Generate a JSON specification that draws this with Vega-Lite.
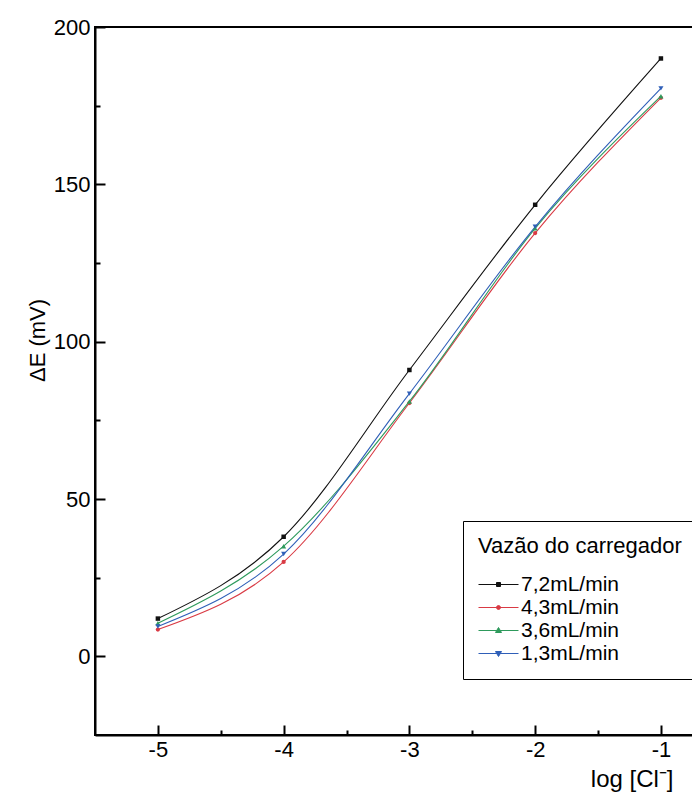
{
  "$schema": "https://vega.github.io/schema/vega-lite/v6.json",
  "width": 599,
  "height": 708,
  "autosize": {"type": "none"},
  "padding": {"left": 95, "top": 27, "right": 0, "bottom": 61},
  "background": "white",
  "config": {
    "view": {"stroke": "black", "strokeWidth": 2},
    "font": "Liberation Sans",
    "axis": {
      "grid": false,
      "domainColor": "black",
      "domainWidth": 2,
      "tickColor": "black",
      "tickWidth": 2,
      "labelFont": "Liberation Sans",
      "labelFontSize": 22,
      "labelColor": "black",
      "titleFont": "Liberation Sans",
      "titleFontWeight": "normal",
      "titleColor": "black"
    }
  },
  "data": {
    "values": [
      {"logCl": -5, "dE": 12, "vazao": "7,2mL/min"},
      {"logCl": -4, "dE": 38, "vazao": "7,2mL/min"},
      {"logCl": -3, "dE": 91, "vazao": "7,2mL/min"},
      {"logCl": -2, "dE": 143.5, "vazao": "7,2mL/min"},
      {"logCl": -1, "dE": 190, "vazao": "7,2mL/min"},
      {"logCl": -5, "dE": 8.5, "vazao": "4,3mL/min"},
      {"logCl": -4, "dE": 30, "vazao": "4,3mL/min"},
      {"logCl": -3, "dE": 80.5, "vazao": "4,3mL/min"},
      {"logCl": -2, "dE": 134.5, "vazao": "4,3mL/min"},
      {"logCl": -1, "dE": 177.5, "vazao": "4,3mL/min"},
      {"logCl": -5, "dE": 10.5, "vazao": "3,6mL/min"},
      {"logCl": -4, "dE": 35, "vazao": "3,6mL/min"},
      {"logCl": -3, "dE": 81, "vazao": "3,6mL/min"},
      {"logCl": -2, "dE": 136, "vazao": "3,6mL/min"},
      {"logCl": -1, "dE": 178, "vazao": "3,6mL/min"},
      {"logCl": -5, "dE": 9.5, "vazao": "1,3mL/min"},
      {"logCl": -4, "dE": 32.5, "vazao": "1,3mL/min"},
      {"logCl": -3, "dE": 83.5, "vazao": "1,3mL/min"},
      {"logCl": -2, "dE": 136.5, "vazao": "1,3mL/min"},
      {"logCl": -1, "dE": 180.5, "vazao": "1,3mL/min"}
    ]
  },
  "encoding": {
    "x": {
      "field": "logCl",
      "type": "quantitative",
      "scale": {"domain": [-5.5, -0.737], "nice": false, "zero": false},
      "axis": {
        "values": [-5, -4.5, -4, -3.5, -3, -2.5, -2, -1.5, -1],
        "labelExpr": "datum.value % 1 === 0 ? '' + datum.value : ''",
        "tickSize": {"condition": {"test": "datum.value % 1 === 0", "value": -10}, "value": -5},
        "labelPadding": 14,
        "title": "log [Cl⁻]",
        "titleFontSize": 24,
        "titleAlign": "right",
        "titleAnchor": "end",
        "titleBaseline": "top",
        "titleX": 578,
        "titleY": 32
      }
    },
    "y": {
      "field": "dE",
      "type": "quantitative",
      "scale": {"domain": [-25, 200], "nice": false, "zero": false},
      "axis": {
        "values": [0, 25, 50, 75, 100, 125, 150, 175, 200],
        "labelExpr": "datum.value % 50 === 0 ? '' + datum.value : ''",
        "tickSize": {"condition": {"test": "datum.value % 50 === 0", "value": -10}, "value": -5},
        "labelPadding": 15,
        "title": "ΔE (mV)",
        "titleFontSize": 22,
        "titleX": -46,
        "titleY": 313,
        "titleAlign": "center"
      }
    },
    "color": {
      "field": "vazao",
      "type": "nominal",
      "scale": {
        "domain": ["7,2mL/min", "4,3mL/min", "3,6mL/min", "1,3mL/min"],
        "range": ["#111111", "#d93a44", "#2e9a5c", "#2f5fb8"]
      },
      "legend": {
        "title": "Vazão do carregador",
        "orient": "none",
        "legendX": 368,
        "legendY": 494,
        "fillColor": "white",
        "strokeColor": "black",
        "padding": 15,
        "titleFont": "Liberation Sans",
        "titleFontSize": 22,
        "titleFontWeight": "normal",
        "titleColor": "black",
        "titleLimit": 400,
        "titlePadding": 16,
        "labelFont": "Liberation Sans",
        "labelFontSize": 21,
        "labelColor": "black",
        "labelLimit": 300,
        "labelOffset": 22,
        "symbolSize": 400,
        "rowPadding": 1,
        "symbolStrokeWidth": 1,
        "symbolOpacity": 1
      }
    }
  },
  "layer": [
    {
      "mark": {"type": "line", "interpolate": "monotone", "strokeWidth": 1.1}
    },
    {
      "transform": [{"filter": "datum.vazao === '7,2mL/min'"}],
      "mark": {"type": "point", "shape": "square", "filled": true, "opacity": 1, "size": 20}
    },
    {
      "transform": [{"filter": "datum.vazao === '4,3mL/min'"}],
      "mark": {"type": "point", "shape": "circle", "filled": true, "opacity": 1, "size": 18}
    },
    {
      "transform": [{"filter": "datum.vazao === '3,6mL/min'"}],
      "mark": {"type": "point", "shape": "triangle-up", "filled": true, "opacity": 1, "size": 26}
    },
    {
      "transform": [{"filter": "datum.vazao === '1,3mL/min'"}],
      "mark": {"type": "point", "shape": "triangle-down", "filled": true, "opacity": 1, "size": 26}
    },
    {
      "transform": [{"filter": "datum.logCl > 100"}],
      "mark": {"type": "point", "filled": true, "opacity": 1, "strokeWidth": 1},
      "encoding": {
        "shape": {
          "field": "vazao",
          "type": "nominal",
          "scale": {
            "domain": ["7,2mL/min", "4,3mL/min", "3,6mL/min", "1,3mL/min"],
            "range": [
              "M-1,0H3M0.8,-0.2H1.2V0.2H0.8Z",
              "M-1,0H3M0.8,0A0.2,0.2 0 1,0 1.2,0A0.2,0.2 0 1,0 0.8,0Z",
              "M-1,0H3M1,-0.3L1.3,0.2H0.7Z",
              "M-1,0H3M1,0.3L1.3,-0.2H0.7Z"
            ]
          }
        },
        "stroke": {
          "field": "vazao",
          "type": "nominal",
          "scale": {
            "domain": ["7,2mL/min", "4,3mL/min", "3,6mL/min", "1,3mL/min"],
            "range": ["#111111", "#d93a44", "#2e9a5c", "#2f5fb8"]
          }
        }
      }
    }
  ]
}
